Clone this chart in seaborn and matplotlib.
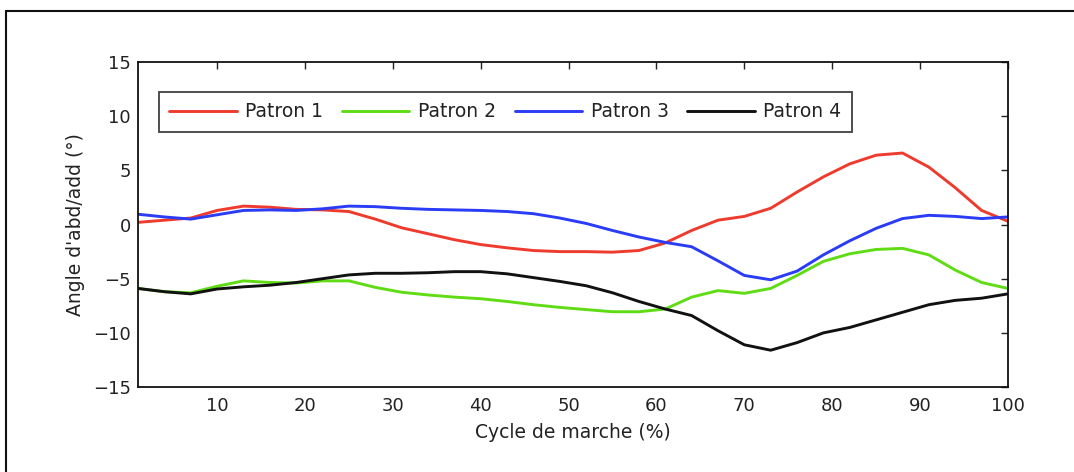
import matplotlib
matplotlib.use("Agg")
import matplotlib.pyplot as plt
import seaborn as sns
import pandas as pd
from matplotlib.lines import Line2D

# Gait cycle (%) sample positions
cycle = [1, 4, 7, 10, 13, 16, 19, 22, 25, 28, 31, 34, 37, 40, 43, 46, 49,
         52, 55, 58, 61, 64, 67, 70, 73, 76, 79, 82, 85, 88, 91, 94, 97, 100]

# Hip abduction/adduction angle (deg) for each pattern
patron1 = [0.2, 0.4, 0.6, 1.3, 1.7, 1.6, 1.4, 1.35, 1.2, 0.5, -0.3, -0.85,
           -1.4, -1.85, -2.15, -2.4, -2.5, -2.5, -2.55, -2.4, -1.7, -0.55,
           0.4, 0.75, 1.5, 3.0, 4.4, 5.6, 6.4, 6.6, 5.3, 3.4, 1.3, 0.3]
patron2 = [-5.9, -6.2, -6.3, -5.7, -5.2, -5.35, -5.4, -5.2, -5.2, -5.8,
           -6.25, -6.5, -6.7, -6.85, -7.1, -7.4, -7.65, -7.85, -8.05, -8.05,
           -7.8, -6.7, -6.1, -6.35, -5.9, -4.7, -3.4, -2.7, -2.3, -2.2, -2.8,
           -4.2, -5.35, -5.9]
patron3 = [0.95, 0.7, 0.5, 0.9, 1.3, 1.35, 1.3, 1.45, 1.7, 1.65, 1.5, 1.4,
           1.35, 1.3, 1.2, 1.0, 0.6, 0.1, -0.55, -1.15, -1.65, -2.05, -3.35,
           -4.7, -5.1, -4.3, -2.8, -1.5, -0.35, 0.55, 0.85, 0.75, 0.55, 0.7]
patron4 = [-5.9, -6.2, -6.4, -5.95, -5.75, -5.6, -5.35, -5.0, -4.65, -4.5,
           -4.5, -4.45, -4.35, -4.35, -4.55, -4.9, -5.25, -5.65, -6.3, -7.1,
           -7.8, -8.4, -9.8, -11.1, -11.6, -10.9, -10.0, -9.5, -8.8, -8.1,
           -7.4, -7.0, -6.8, -6.4]

labels = ["Patron 1", "Patron 2", "Patron 3", "Patron 4"]
colors = ["#ee3b2e", "#5fdc14", "#2a3cf5", "#111111"]
x_ticks = [10, 20, 30, 40, 50, 60, 70, 80, 90, 100]
y_ticks = [-15, -10, -5, 0, 5, 10, 15]

frames = []
for name, vals in zip(labels, [patron1, patron2, patron3, patron4]):
    frames.append(pd.DataFrame({"cycle": cycle, "angle": vals, "patron": name}))
df = pd.concat(frames, ignore_index=True)

sns.set_style("white")
plt.rcParams["font.family"] = ["DejaVu Sans"]

fig = plt.figure(figsize=(10.74, 4.72), dpi=100)
ax = fig.add_axes([0.1285, 0.180, 0.81, 0.6886])

sns.lineplot(data=df, x="cycle", y="angle", hue="patron",
             palette=dict(zip(labels, colors)), linewidth=2.1,
             legend=False, ax=ax)

ax.set_xlim(1, 100)
ax.set_ylim(-15, 15)
ax.set_xticks(x_ticks)
ax.set_yticks(y_ticks)
ax.set_yticklabels([str(t).replace("-", "\u2212") for t in y_ticks])
ax.tick_params(axis="both", direction="in", length=5, width=1.0, top=True,
               right=True, labelsize=13, colors="#222222")
ax.tick_params(axis="x", pad=7)
ax.tick_params(axis="y", pad=5)
for s in ax.spines.values():
    s.set_linewidth(1.3)
    s.set_color("#111111")

ax.set_xlabel("Cycle de marche (%)", fontsize=13.5, color="#222222", labelpad=6)
ax.set_ylabel("Angle d'abd/add (°)", fontsize=13.5, color="#222222", labelpad=6)

handles = [Line2D([0], [0], color=c, lw=2.1) for c in colors]
leg = ax.legend(handles, labels, ncol=4, loc="upper left",
                bbox_to_anchor=(0.024, 0.908), borderaxespad=0,
                frameon=True, fancybox=False, edgecolor="#111111",
                fontsize=13.5, handlelength=3.6, handletextpad=0.45,
                columnspacing=1.0, borderpad=0.55)
leg.get_frame().set_linewidth(1.3)
for t in leg.get_texts():
    t.set_color("#222222")

# Outer frame around the figure
fig.add_artist(Line2D([6 / 1074, 6 / 1074], [0, 1 - 11 / 472],
                      transform=fig.transFigure, color="#111111", lw=1.5))
fig.add_artist(Line2D([6 / 1074, 1], [1 - 11 / 472, 1 - 11 / 472],
                      transform=fig.transFigure, color="#111111", lw=1.5))

fig.savefig("out.png", dpi=100)
